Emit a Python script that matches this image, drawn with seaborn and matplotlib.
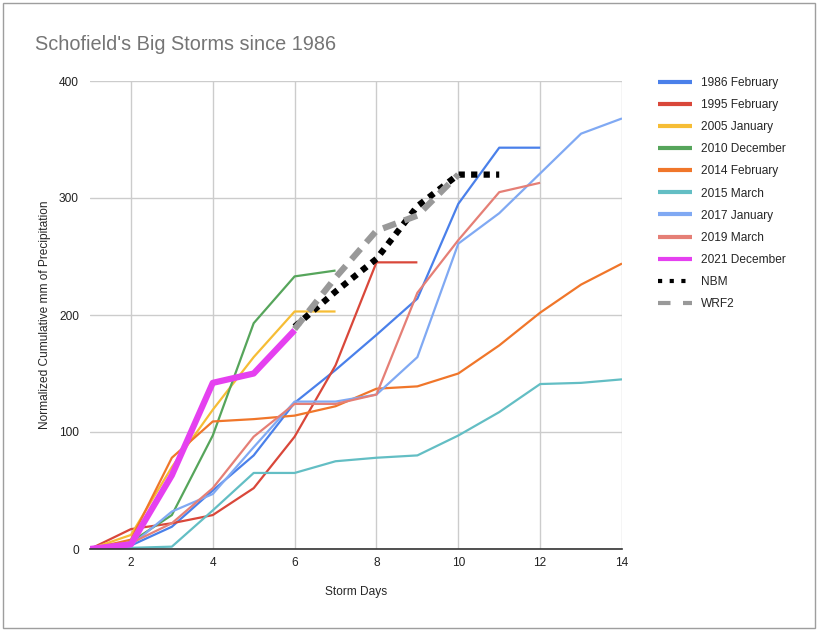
import numpy as np
import pandas as pd
import matplotlib
matplotlib.use("Agg")
import matplotlib.pyplot as plt
import seaborn as sns
from matplotlib.patches import Rectangle
from matplotlib.lines import Line2D

# storm data (cumulative mm, normalized), day 1 = 0
days_1986 = [1, 2, 3, 4, 5, 6, 7, 8, 9, 10, 11, 12]
vals_1986 = [0, 3, 19, 50, 80, 125, 153, 183, 214, 295, 343, 343]
days_1995 = [1, 2, 3, 4, 5, 6, 7, 8, 9]
vals_1995 = [0, 17, 22, 29, 52, 96, 157, 245, 245]
days_2005 = [1, 2, 3, 4, 5, 6, 7]
vals_2005 = [0, 12, 70, 119, 164, 203, 203]
days_2010 = [1, 2, 3, 4, 5, 6, 7]
vals_2010 = [0, 6, 29, 97, 193, 233, 238]
days_2014 = [1, 2, 3, 4, 5, 6, 7, 8, 9, 10, 11, 12, 13, 14]
vals_2014 = [0, 8, 78, 109, 111, 114, 122, 137, 139, 150, 174, 202, 226, 244]
days_2015 = [1, 2, 3, 4, 5, 6, 7, 8, 9, 10, 11, 12, 13, 14]
vals_2015 = [0, 1, 2, 33, 65, 65, 75, 78, 80, 97, 117, 141, 142, 145]
days_2017 = [1, 2, 3, 4, 5, 6, 7, 8, 9, 10, 11, 12, 13, 14]
vals_2017 = [0, 3, 32, 47, 87, 126, 126, 132, 164, 261, 287, 321, 355, 368]
days_2019 = [1, 2, 3, 4, 5, 6, 7, 8, 9, 10, 11, 12]
vals_2019 = [0, 5, 22, 52, 96, 124, 124, 132, 219, 264, 305, 313]
days_2021 = [1, 2, 3, 4, 5, 6]
vals_2021 = [0, 4, 63, 142, 150, 187]
days_nbm = [6, 7, 8, 9, 10, 11]
vals_nbm = [190, 220, 248, 293, 320, 320]
days_wrf2 = [6, 7, 8, 9, 10]
vals_wrf2 = [188, 232, 272, 285, 320]

series = [
    ("1986 February", days_1986, vals_1986, "#4a80ea", 1.6, "-"),
    ("1995 February", days_1995, vals_1995, "#d9473a", 1.6, "-"),
    ("2005 January", days_2005, vals_2005, "#f6bd35", 1.6, "-"),
    ("2010 December", days_2010, vals_2010, "#56a55b", 1.6, "-"),
    ("2014 February", days_2014, vals_2014, "#f0762a", 1.6, "-"),
    ("2015 March", days_2015, vals_2015, "#63bec4", 1.6, "-"),
    ("2017 January", days_2017, vals_2017, "#80a9f3", 1.6, "-"),
    ("2019 March", days_2019, vals_2019, "#e57f76", 1.6, "-"),
    ("2021 December", days_2021, vals_2021, "#e540f0", 4.5, "-"),
    ("NBM", days_nbm, vals_nbm, "#000000", 4.5, (0, (1, 1))),
    ("WRF2", days_wrf2, vals_wrf2, "#999999", 4.5, (0, (2.2, 1.4))),
]

sns.set_style("white")
plt.rcParams['font.family'] = ['Liberation Sans', 'DejaVu Sans']

fig = plt.figure(figsize=(8.2, 6.32), dpi=100)
ax = fig.add_axes([90 / 820, 83 / 632, 532 / 820, 468 / 632])

handles = []
for name, d, v, c, lw, ls in series:
    sns.lineplot(x=d, y=v, ax=ax, color=c, linewidth=lw, linestyle=ls,
                 solid_capstyle="butt", dash_capstyle="butt")
    if ls == "-":
        hls = "-"
    elif name == "NBM":
        hls = (0, (1, 1.8))
    else:
        hls = (0, (3, 3))
    handles.append(Line2D([], [], color=c, linewidth=3, linestyle=hls,
                          solid_capstyle="butt", dash_capstyle="butt", label=name))

ax.set_xlim(1, 14)
ax.set_ylim(0, 400)
ax.set_xticks([2, 4, 6, 8, 10, 12, 14])
ax.set_yticks([0, 100, 200, 300, 400])
ax.grid(True, color="#cccccc", linewidth=1)
ax.tick_params(axis="x", length=0, labelsize=8.6, colors="#222222", pad=6)
ax.tick_params(axis="y", length=0, labelsize=8.6, colors="#222222", pad=8)
for s in ["left", "right", "top"]:
    ax.spines[s].set_visible(False)
ax.spines["bottom"].set_color("#333333")
ax.spines["bottom"].set_linewidth(1.2)

ax.set_xlabel("Storm Days", fontsize=8.6, labelpad=12)
ax.set_ylabel("Normalized Cumulative mm of Precipitation", fontsize=8.6, labelpad=6)
fig.text(35 / 820, 1 - 45 / 632, "Schofield's Big Storms since 1986",
         fontsize=14.3, color="#757575", va="center", ha="left")

ax.legend(handles=handles, loc="upper left", bbox_to_anchor=(647 / 820, 1 - 66 / 632),
          bbox_transform=fig.transFigure, frameon=False, fontsize=8.6,
          handlelength=2.9, labelspacing=0.85, handletextpad=0.7)

fig.patches.append(Rectangle((3 / 820, 4 / 632), 812 / 820, 625 / 632,
                             transform=fig.transFigure, fill=False,
                             edgecolor="#9e9e9e", linewidth=1))

fig.savefig("out.png", dpi=100)
